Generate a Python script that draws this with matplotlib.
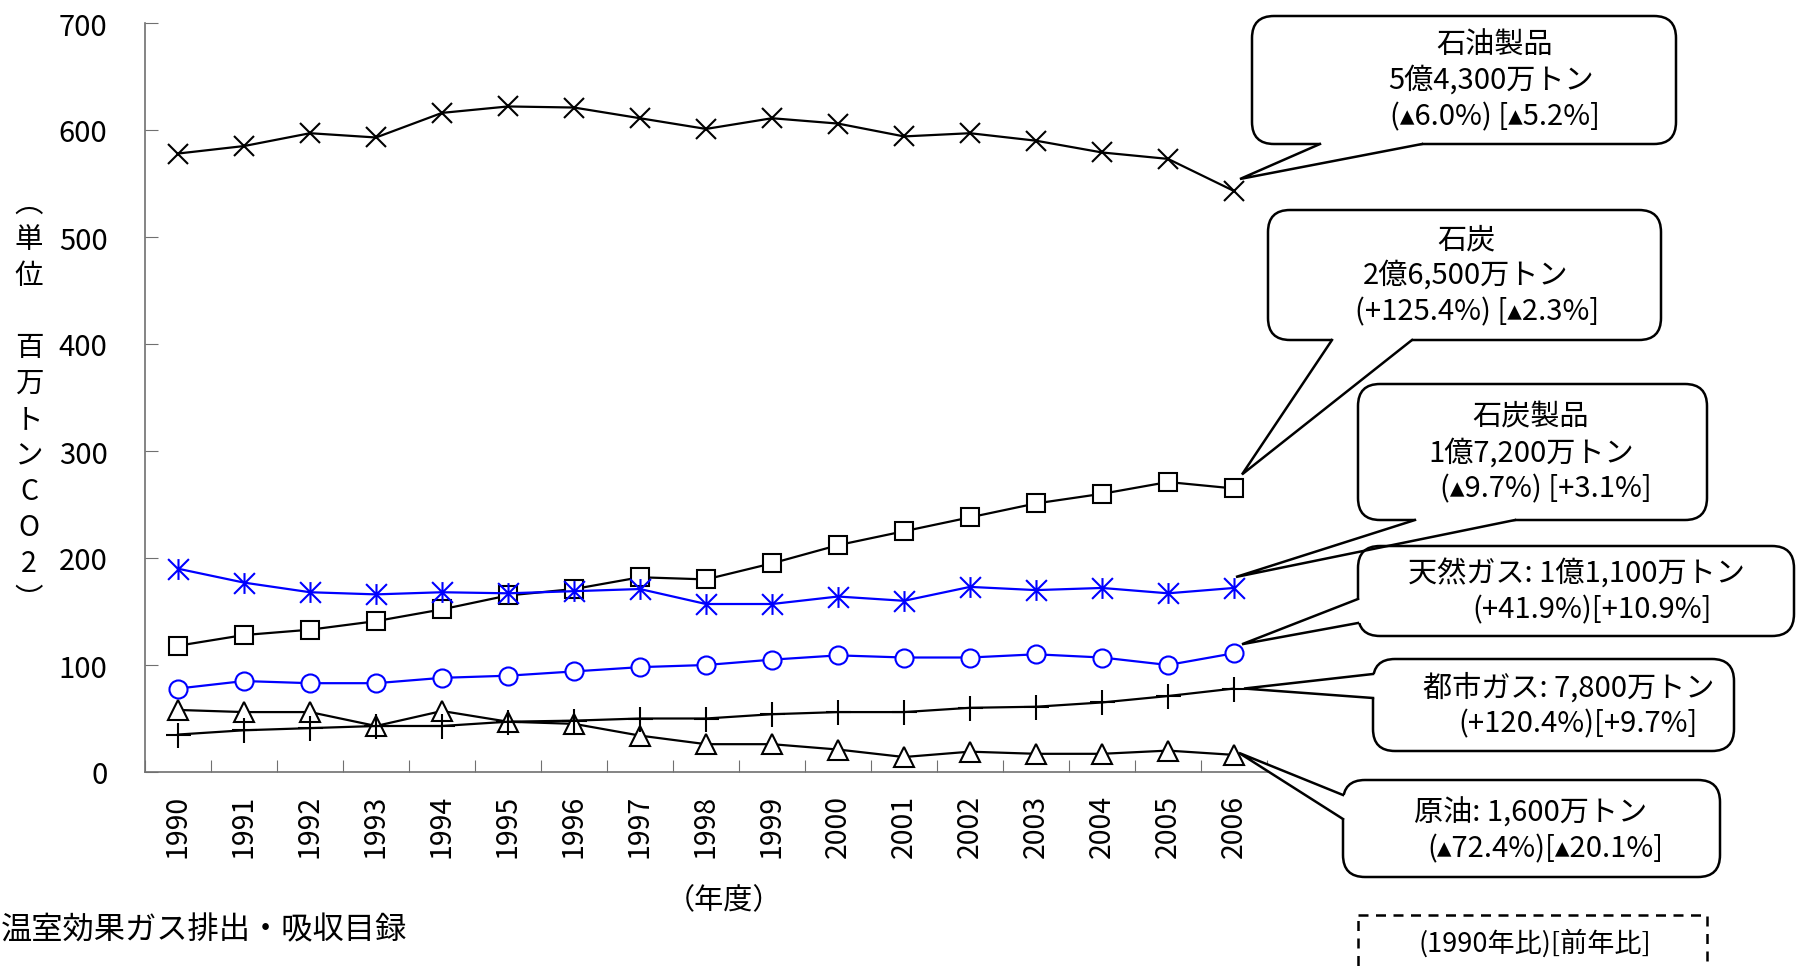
import matplotlib.pyplot as plt
import numpy as np
from matplotlib.patches import FancyBboxPatch, Polygon, Rectangle
from matplotlib.path import Path

plt.rcParams['font.family'] = ['Noto Sans CJK JP', 'DejaVu Sans']

# CO2 emissions by fuel (million t-CO2), fiscal years 1990-2006
years = [str(y) for y in range(1990, 2007)]
oil_products = [578, 585, 597, 593, 616, 622, 621, 611, 601, 611, 606, 594, 597, 590, 579, 573, 543]
coal = [118, 128, 133, 141, 152, 165, 171, 182, 180, 195, 212, 225, 238, 251, 260, 271, 265]
coal_products = [190, 177, 168, 166, 168, 167, 169, 171, 157, 157, 164, 160, 173, 170, 172, 167, 172]
natural_gas = [78, 85, 83, 83, 88, 90, 94, 98, 100, 105, 109, 107, 107, 110, 107, 100, 111]
town_gas = [35, 39, 41, 43, 43, 47, 48, 50, 50, 54, 56, 56, 60, 61, 65, 71, 78]
crude_oil = [58, 56, 56, 43, 57, 47, 45, 34, 26, 26, 21, 14, 19, 17, 17, 20, 16]

callout_texts = [
    ['石油製品', '5億4,300万トン', '(▴6.0%) [▴5.2%]'],
    ['石炭', '2億6,500万トン', '(+125.4%) [▴2.3%]'],
    ['石炭製品', '1億7,200万トン', '(▴9.7%) [+3.1%]'],
    ['天然ガス: 1億1,100万トン', '(+41.9%)[+10.9%]'],
    ['都市ガス: 7,800万トン', '(+120.4%)[+9.7%]'],
    ['原油: 1,600万トン', '(▴72.4%)[▴20.1%]'],
]

W, H = 1796, 970
fig = plt.figure(figsize=(W / 100, H / 100), dpi=100)
ax = fig.add_axes([145 / W, 1 - 773 / H, (1267 - 145) / W, (773 - 24) / H])

x = np.arange(len(years))
# vertical bar + X, like the spreadsheet asterisk marker
star = Path([(0, -1), (0, 1), (-1, -1), (1, 1), (-1, 1), (1, -1)],
            [Path.MOVETO, Path.LINETO, Path.MOVETO, Path.LINETO, Path.MOVETO, Path.LINETO])

blk = dict(color='black', lw=1.6, mfc='white', mec='black', mew=1.5)
ax.plot(x, oil_products, marker='x', ms=15, **blk)
ax.plot(x, coal, marker='s', ms=13, **blk)
ax.plot(x, crude_oil, marker='^', ms=15, **blk)
ax.plot(x, town_gas, marker='+', ms=18, **blk)
ax.plot(x, coal_products, color='#0000ff', lw=1.6, marker=star, ms=15,
        mec='#0000ff', mew=1.5)
ax.plot(x, natural_gas, color='#0000ff', lw=1.6, marker='o', ms=13,
        mfc='white', mec='#0000ff', mew=1.5)

ax.set_xlim(-0.5, len(years) - 0.5)
ax.set_ylim(0, 700)
ax.set_yticks(range(0, 701, 100))
ax.set_xticks(np.arange(-0.5, len(years), 1.0))
ax.set_xticklabels([])
ax.set_xticks(x, minor=True)
ax.set_xticklabels(years, minor=True, rotation=90)
ax.tick_params(axis='x', which='major', direction='in', length=9, color='#707070')
ax.tick_params(axis='x', which='minor', length=0, pad=16, labelsize=20.5)
ax.tick_params(axis='y', direction='in', length=9, color='#707070', pad=27, labelsize=21)
for s in ['top', 'right']:
    ax.spines[s].set_visible(False)
for s in ['left', 'bottom']:
    ax.spines[s].set_color('#707070')
    ax.spines[s].set_linewidth(1.2)

# overlay in pixel coordinates for the callouts and loose text
ov = fig.add_axes([0, 0, 1, 1], zorder=5)
ov.set_xlim(0, W)
ov.set_ylim(H, 0)
ov.axis('off')
ov.patch.set_alpha(0)


def to_px(i, v, dx, dy):
    px, py = ax.transData.transform((i, v))
    return px + dx, H - py + dy


series = [oil_products, coal, coal_products, natural_gas, town_gas, crude_oil]
boxes = [(1252, 17, 1676, 145), (1268, 211, 1661, 341), (1358, 385, 1707, 521),
         (1358, 547, 1794, 637), (1373, 660, 1734, 752), (1343, 781, 1720, 878)]
# wedge base: ('b', x0, x1) on bottom edge or ('l', y0, y1) on left edge
bases = [('b', 1320, 1422), ('b', 1332, 1412), ('b', 1415, 1515),
         ('l', 600, 624), ('l', 675, 699), ('l', 796, 820)]
tip_off = [(6, -12), (8, -14), (2, -11), (8, -9), (10, 0), (5, -2)]
line_pos = [[(1495, 46), (1491, 81), (1495, 117)],
            [(1466, 240), (1466, 276), (1477, 312)],
            [(1531, 417), (1531, 454), (1546, 489)],
            [(1576, 575), (1592, 610)],
            [(1569, 688), (1578, 724)],
            [(1531, 813), (1545, 849)]]

for k in range(len(series)):
    x0, y0, x1, y1 = boxes[k]
    ov.add_patch(FancyBboxPatch((x0 + 18, y0 + 18), x1 - x0 - 36, y1 - y0 - 36,
                                boxstyle='round,pad=18,rounding_size=22',
                                fc='white', ec='black', lw=1.8))
    tx, ty = to_px(len(years) - 1, series[k][-1], *tip_off[k])
    side, a, b = bases[k]
    if side == 'b':
        p0, p1 = (a, y1), (b, y1)
        fill = [(a, y1 - 3), p0, (tx, ty), p1, (b, y1 - 3)]
    else:
        p0, p1 = (x0, a), (x0, b)
        fill = [(x0 + 3, a), p0, (tx, ty), p1, (x0 + 3, b)]
    ov.add_patch(Polygon(fill, closed=True, fc='white', ec='none'))
    ov.plot([p0[0], tx, p1[0]], [p0[1], ty, p1[1]], color='black', lw=1.8,
            solid_joinstyle='miter')
    for t, (lx, ly) in zip(callout_texts[k], line_pos[k]):
        ov.text(lx, ly, t, ha='center', va='center', fontsize=21)

# vertical unit label
ylab = ['︵', '単', '位', '', '百', '万', 'ト', 'ン', 'C', 'O', '2', '︶']
for i, ch in enumerate(ylab):
    ov.text(29, 204 + i * 36, ch, ha='center', va='center', fontsize=20.5)

ov.text(724, 901, '（年度）', ha='center', va='center', fontsize=21)
ov.text(1, 930, '温室効果ガス排出・吸収目録', ha='left', va='center', fontsize=22.5)

ov.add_patch(Rectangle((1358, 916), 349, 70, fc='white', ec='black', lw=1.8,
                       ls=(0, (4, 3))))
ov.text(1535, 943, '(1990年比)[前年比]', ha='center', va='center', fontsize=19.5)

fig.savefig('out.png', dpi=100)
